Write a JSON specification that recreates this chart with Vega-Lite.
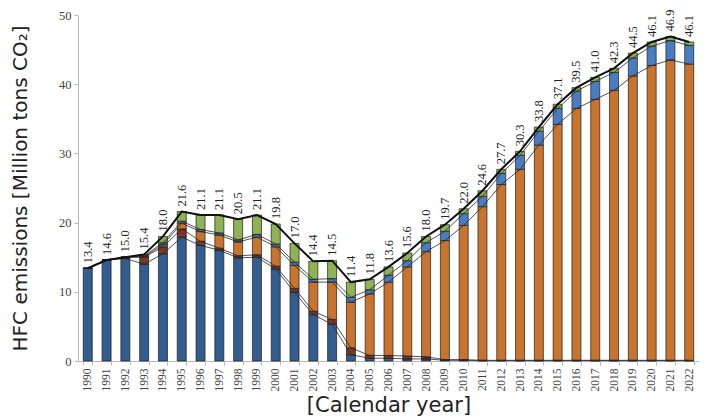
{
  "$schema": "https://vega.github.io/schema/vega-lite/v6.json",
  "autosize": {"type": "fit", "contains": "padding"},
  "width": 715,
  "height": 420,
  "padding": {"left": 10, "top": 9, "right": 16, "bottom": 5},
  "config": {
    "view": {"stroke": null},
    "axis": {"grid": false, "domainColor": "#b8b8b8", "tickColor": "#b8b8b8", "labelColor": "#444", "titleColor": "#222", "titleFont": "DejaVu Sans", "titleFontWeight": "normal", "labelFont": "Liberation Serif"}
  },
  "data": {
    "values": [
      {"year": "1990", "byproduct": 13.4, "fugitive": 0, "refrigerant": 0, "spray": 0, "urethane_foam": 0, "total": 13.4},
      {"year": "1991", "byproduct": 14.6, "fugitive": 0, "refrigerant": 0, "spray": 0, "urethane_foam": 0, "total": 14.6},
      {"year": "1992", "byproduct": 14.8, "fugitive": 0.2, "refrigerant": 0, "spray": 0, "urethane_foam": 0, "total": 15.0},
      {"year": "1993", "byproduct": 14.0, "fugitive": 1.0, "refrigerant": 0.1, "spray": 0.1, "urethane_foam": 0.2, "total": 15.4},
      {"year": "1994", "byproduct": 15.5, "fugitive": 1.0, "refrigerant": 0.3, "spray": 0.3, "urethane_foam": 0.9, "total": 18.0},
      {"year": "1995", "byproduct": 17.9, "fugitive": 1.2, "refrigerant": 0.8, "spray": 0.3, "urethane_foam": 1.4, "total": 21.6},
      {"year": "1996", "byproduct": 16.7, "fugitive": 0.6, "refrigerant": 1.4, "spray": 0.3, "urethane_foam": 2.1, "total": 21.1},
      {"year": "1997", "byproduct": 16.0, "fugitive": 0.3, "refrigerant": 1.9, "spray": 0.3, "urethane_foam": 2.6, "total": 21.1},
      {"year": "1998", "byproduct": 14.9, "fugitive": 0.3, "refrigerant": 2.0, "spray": 0.3, "urethane_foam": 3.0, "total": 20.5},
      {"year": "1999", "byproduct": 15.0, "fugitive": 0.35, "refrigerant": 2.55, "spray": 0.4, "urethane_foam": 2.8, "total": 21.1},
      {"year": "2000", "byproduct": 13.3, "fugitive": 0.4, "refrigerant": 2.8, "spray": 0.4, "urethane_foam": 2.9, "total": 19.8},
      {"year": "2001", "byproduct": 9.9, "fugitive": 0.6, "refrigerant": 3.3, "spray": 0.5, "urethane_foam": 2.7, "total": 17.0},
      {"year": "2002", "byproduct": 6.7, "fugitive": 0.5, "refrigerant": 4.2, "spray": 0.4, "urethane_foam": 2.6, "total": 14.4},
      {"year": "2003", "byproduct": 5.3, "fugitive": 0.7, "refrigerant": 5.4, "spray": 0.5, "urethane_foam": 2.6, "total": 14.5},
      {"year": "2004", "byproduct": 0.9, "fugitive": 1.0, "refrigerant": 6.6, "spray": 0.7, "urethane_foam": 2.2, "total": 11.4},
      {"year": "2005", "byproduct": 0.4, "fugitive": 0.4, "refrigerant": 8.9, "spray": 0.6, "urethane_foam": 1.5, "total": 11.8},
      {"year": "2006", "byproduct": 0.4, "fugitive": 0.4, "refrigerant": 10.6, "spray": 1.0, "urethane_foam": 1.2, "total": 13.6},
      {"year": "2007", "byproduct": 0.3, "fugitive": 0.4, "refrigerant": 12.9, "spray": 0.9, "urethane_foam": 1.1, "total": 15.6},
      {"year": "2008", "byproduct": 0.3, "fugitive": 0.3, "refrigerant": 15.2, "spray": 1.3, "urethane_foam": 0.9, "total": 18.0},
      {"year": "2009", "byproduct": 0.1, "fugitive": 0.1, "refrigerant": 17.2, "spray": 1.35, "urethane_foam": 0.95, "total": 19.7},
      {"year": "2010", "byproduct": 0.1, "fugitive": 0.1, "refrigerant": 19.4, "spray": 1.7, "urethane_foam": 0.7, "total": 22.0},
      {"year": "2011", "byproduct": 0.05, "fugitive": 0.05, "refrigerant": 22.2, "spray": 1.5, "urethane_foam": 0.8, "total": 24.6},
      {"year": "2012", "byproduct": 0.05, "fugitive": 0.05, "refrigerant": 25.4, "spray": 1.6, "urethane_foam": 0.6, "total": 27.7},
      {"year": "2013", "byproduct": 0.05, "fugitive": 0.05, "refrigerant": 27.6, "spray": 2.0, "urethane_foam": 0.6, "total": 30.3},
      {"year": "2014", "byproduct": 0.05, "fugitive": 0.05, "refrigerant": 31.1, "spray": 2.0, "urethane_foam": 0.6, "total": 33.8},
      {"year": "2015", "byproduct": 0.05, "fugitive": 0.05, "refrigerant": 34.1, "spray": 2.3, "urethane_foam": 0.6, "total": 37.1},
      {"year": "2016", "byproduct": 0.05, "fugitive": 0.05, "refrigerant": 36.4, "spray": 2.5, "urethane_foam": 0.5, "total": 39.5},
      {"year": "2017", "byproduct": 0.05, "fugitive": 0.05, "refrigerant": 37.7, "spray": 2.6, "urethane_foam": 0.6, "total": 41.0},
      {"year": "2018", "byproduct": 0.05, "fugitive": 0.05, "refrigerant": 39.0, "spray": 2.6, "urethane_foam": 0.6, "total": 42.3},
      {"year": "2019", "byproduct": 0.05, "fugitive": 0.05, "refrigerant": 41.1, "spray": 2.6, "urethane_foam": 0.7, "total": 44.5},
      {"year": "2020", "byproduct": 0.05, "fugitive": 0.05, "refrigerant": 42.6, "spray": 2.8, "urethane_foam": 0.6, "total": 46.1},
      {"year": "2021", "byproduct": 0.05, "fugitive": 0.05, "refrigerant": 43.4, "spray": 2.8, "urethane_foam": 0.6, "total": 46.9},
      {"year": "2022", "byproduct": 0.05, "fugitive": 0.05, "refrigerant": 42.8, "spray": 2.7, "urethane_foam": 0.5, "total": 46.1}
    ]
  },
  "encoding": {
    "x": {
      "field": "year", "type": "ordinal",
      "scale": {"paddingInner": 0.52, "paddingOuter": 0.28},
      "axis": {"title": "[Calendar year]", "titleFontSize": 21, "titlePadding": 3, "labelAngle": 270, "labelFontSize": 11.5, "labelPadding": 3, "tickBand": "extent", "tickSize": 4}
    }
  },
  "layer": [
    {
      "transform": [
        {"fold": ["byproduct", "fugitive", "refrigerant", "spray", "urethane_foam"], "as": ["cat", "v"]},
        {"stack": "v", "groupby": ["year"], "sort": [{"field": "cat", "order": "ascending"}], "as": ["v0", "v1"]}
      ],
      "mark": {"type": "bar", "stroke": "#1c1c1c", "strokeWidth": 0.7},
      "encoding": {
        "y": {"field": "v1", "type": "quantitative", "scale": {"domain": [0, 50]},
          "axis": {"title": "HFC emissions [Million tons CO₂]", "titleFontSize": 20, "titlePadding": 28, "values": [0, 5, 10, 15, 20, 25, 30, 35, 40, 45, 50], "labelFontSize": 12.5, "tickSize": 4, "labelPadding": 3}},
        "y2": {"field": "v0"},
        "color": {"field": "cat", "type": "nominal", "legend": null,
          "scale": {"domain": ["byproduct", "fugitive", "refrigerant", "spray", "urethane_foam"], "range": ["#335d8f", "#7a3628", "#c8742f", "#4a7dc0", "#8fb254"]}}
      }
    },
    {
      "transform": [
        {"fold": ["byproduct", "fugitive", "refrigerant", "spray", "urethane_foam"], "as": ["cat", "v"]},
        {"stack": "v", "groupby": ["year"], "sort": [{"field": "cat", "order": "ascending"}], "as": ["v0", "v1"]}
      ],
      "mark": {"type": "line", "stroke": "#2a2a2a", "strokeWidth": 0.8},
      "encoding": {
        "y": {"field": "v1", "type": "quantitative", "title": "HFC emissions [Million tons CO₂]"},
        "detail": {"field": "cat"}
      }
    },
    {
      "mark": {"type": "line", "stroke": "#111", "strokeWidth": 2},
      "encoding": {
        "y": {"field": "total", "type": "quantitative", "title": "HFC emissions [Million tons CO₂]"}
      }
    },
    {
      "mark": {"type": "text", "angle": 270, "align": "left", "baseline": "middle", "dx": 5, "font": "Liberation Serif", "fontSize": 12.5, "color": "#222"},
      "encoding": {
        "y": {"field": "total", "type": "quantitative", "title": "HFC emissions [Million tons CO₂]"},
        "text": {"field": "total", "type": "quantitative", "format": ".1f"}
      }
    }
  ]
}
